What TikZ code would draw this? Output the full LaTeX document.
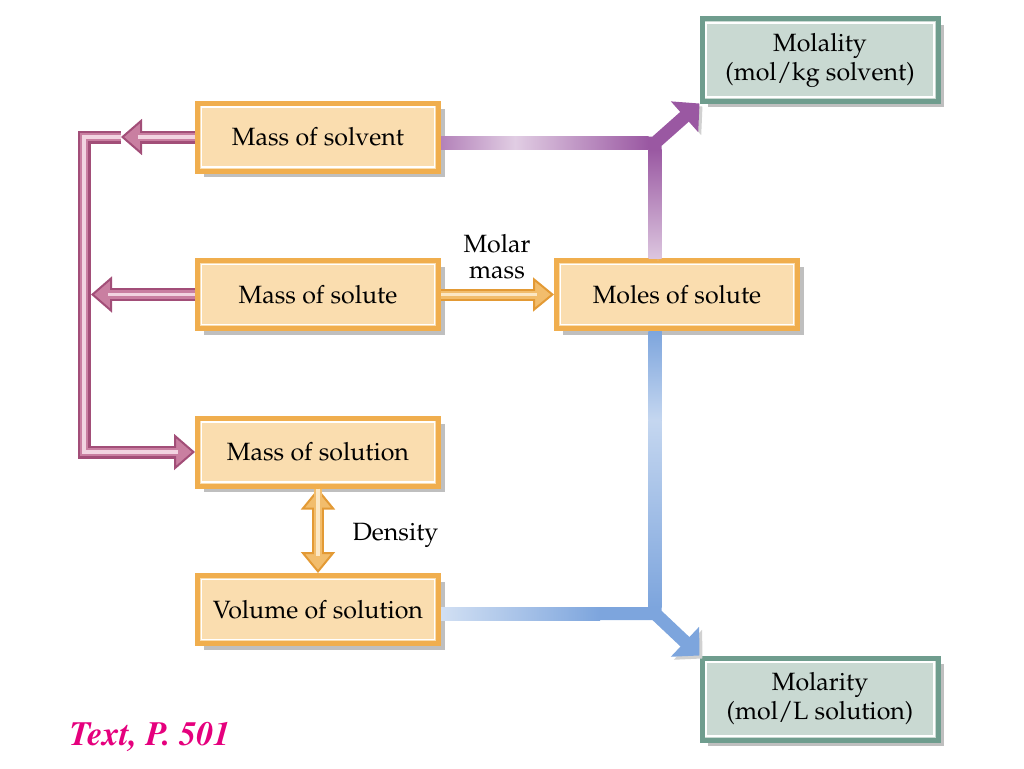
\documentclass[tikz,border=0pt]{standalone}
\usepackage[T1]{fontenc}
\usepackage{mathpazo}
\usepackage{xcolor}
\usepackage{tikz}
\usetikzlibrary{positioning, arrows.meta, shadows}

\definecolor{boxfill}{HTML}{FADDAF}
\definecolor{boxline}{HTML}{F0AE4E}
\definecolor{greenfill}{HTML}{C9D9D2}
\definecolor{greenline}{HTML}{6F9D8E}
\definecolor{pinkdk}{HTML}{A24E78}
\definecolor{pinkmd}{HTML}{C97FA1}
\definecolor{pinklt}{HTML}{F2D4E1}
\definecolor{orangedk}{HTML}{E39A35}
\definecolor{orangemd}{HTML}{F2BD6C}
\definecolor{orangelt}{HTML}{FCE7C3}
\definecolor{purpleln}{HTML}{9A58A2}
\definecolor{blueln}{HTML}{7DA5DD}
\definecolor{textpink}{HTML}{E5007D}

\begin{document}
\begin{tikzpicture}
[
x=1pt, y=-1pt, node distance=84.5pt,
qbox/.style={draw=boxline, fill=boxfill, line width=5pt, minimum width=241pt,
	minimum height=68pt, inner sep=0pt, font=\fontsize{25}{29}\selectfont,
	drop shadow={shadow xshift=6pt, shadow yshift=-6pt, fill=black!25, opacity=1}},
rbox/.style={qbox, draw=greenline, fill=greenfill, minimum width=236pt,
	minimum height=82pt, align=center},
lbl/.style={font=\fontsize{25}{26}\selectfont},
pinkarrow/.style={draw=pinkdk, line width=13pt, line join=miter,
	>={Triangle[length=21pt, width=36pt, fill=pinkmd, line width=2pt]}, ->,
	postaction={draw=pinkmd, line width=8.5pt, -, shorten >=18pt},
	postaction={draw=pinklt, line width=3.5pt, -, shorten >=17pt}},
orangearrow/.style={draw=orangedk, line width=12pt, line join=miter,
	>={Triangle[length=21pt, width=34pt, fill=orangemd, line width=2pt]}, ->,
	postaction={draw=orangemd, line width=8pt, -, shorten >=18pt},
	postaction={draw=orangelt, line width=3.5pt, -, shorten >=17pt}},
purplearrow/.style={draw=purpleln, line width=13pt, line join=miter,
	-{Triangle[length=20pt, width=40pt]},
	preaction={draw=black!18, transform canvas={shift={(3pt,-3pt)}}}},
bluearrow/.style={purplearrow, draw=blueln}
]
\useasboundingbox (0,0) rectangle (1024,768);

% boxes
\node[qbox] (solvent) at (318,137) {Mass of solvent};
\node[qbox, below=of solvent] (solute) {Mass of solute};
\node[qbox, below=of solute] (solution) {Mass of solution};
\node[qbox, below=of solution] (volume) {Volume of solution};
\node[qbox, right=113pt of solute] (moles) {Moles of solute};
\node[rbox] (molality) at (820,60) {Molality\\(mol/kg solvent)};
\node[rbox] (molarity) at (820,699) {Molarity\\(mol/L solution)};
\foreach \n in {solvent,solute,solution,volume,moles,molality,molarity}
	\draw[white, line width=1.2pt] ([shift={(6.5pt,6.5pt)}]\n.south west)
		rectangle ([shift={(-6.5pt,-6.5pt)}]\n.north east);

% left side
\coordinate (ltop) at (121,0 |- solvent.west);
\coordinate (lmid) at (91,0 |- solute.west);
\coordinate (lbot) at (84,0 |- solution.west);
\draw[pinkarrow] (solvent.west) -- (ltop);
\draw[pinkarrow] (solute.west) -- (lmid);
\draw[pinkarrow] (ltop) -- (lbot |- ltop) -- (lbot) -- (solution.west);

% conversions
\draw[orangearrow] (solute.east) -- (moles.west);
\node[lbl, align=center, anchor=base] (molar) at (497,278) {Molar\\mass};
\draw[orangearrow, <->, postaction={shorten <=17pt}] (solution.south) -- (volume.north);
\node[lbl, anchor=base west] (density) at (349,540) {Density};

% right side
\coordinate (jtop) at (655,143);
\coordinate (vend) at ([yshift=-4pt]volume.east);
\coordinate (jbot) at (jtop |- vend);
\draw[purplearrow] (jtop |- moles.north) -- ([yshift=6pt]jtop)
	([yshift=-6pt]solvent.east) -- (jtop) -- (molality.south west);
\draw[bluearrow] (jbot |- moles.south) -- ([yshift=-6pt]jbot)
	(vend) -- (jbot) -- (molarity.north west);
% light middles
\shade[left color=purpleln!75, right color=purpleln!30]
	([yshift=0.5pt]solvent.east) rectangle (515,149.5);
\shade[left color=purpleln!30, right color=purpleln]
	(515,136.5) rectangle ([shift={(-6.5pt,-6.5pt)}]jtop);
\shade[top color=purpleln, bottom color=purpleln!35]
	([shift={(-6.5pt,-6.5pt)}]jtop) rectangle ([xshift=6.5pt]jtop |- moles.north);
\shade[top color=blueln, bottom color=blueln!45]
	([xshift=-6.5pt]jbot |- moles.south) rectangle (661.5,420);
\shade[top color=blueln!45, bottom color=blueln]
	(648.5,420) rectangle ([shift={(6.5pt,6.5pt)}]jbot);
\shade[left color=blueln!35, right color=blueln]
	([yshift=6.5pt]vend) rectangle ([shift={(159pt,-6.5pt)}]vend);

\node[font=\fontsize{34}{38}\fontfamily{ptm}\fontseries{b}\fontshape{it}\selectfont,
	text=textpink] (page) at (150,737) {Text, P. 501};
\end{tikzpicture}
\end{document}
